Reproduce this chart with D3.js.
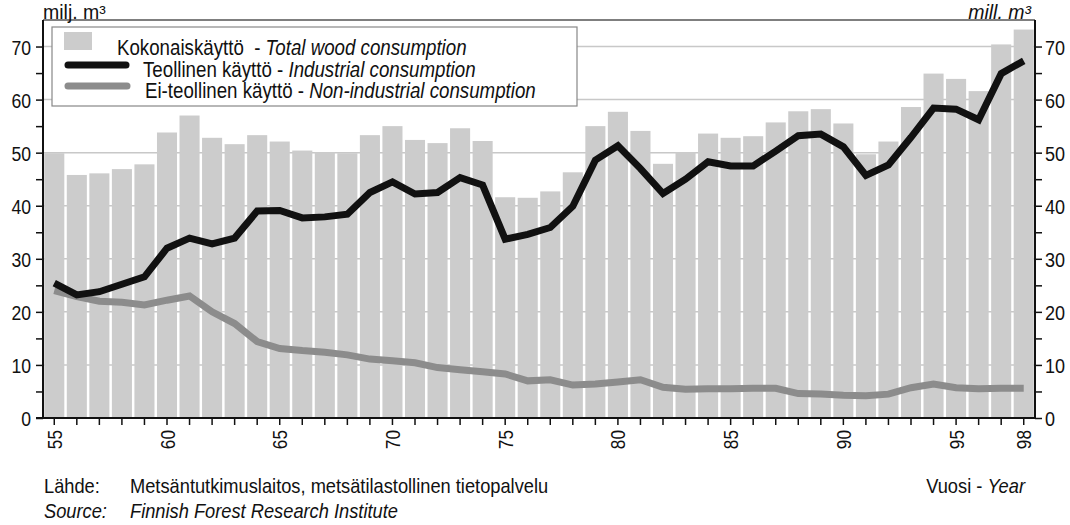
<!DOCTYPE html>
<html><head><meta charset="utf-8">
<script src="https://cdn.jsdelivr.net/npm/d3@7"></script>
<style>
body{margin:0;background:#fff;}
text{font-family:'Liberation Sans',Arial,sans-serif;fill:#111;white-space:pre;}
</style></head>
<body><svg id="c" width="1070" height="525"></svg>
<script>
const years = [55,56,57,58,59,60,61,62,63,64,65,66,67,68,69,70,71,72,73,74,75,76,77,78,79,80,81,82,83,84,85,86,87,88,89,90,91,92,93,94,95,96,97,98];
const total = [49.9,45.8,46.1,46.9,47.8,53.8,57.0,52.8,51.6,53.3, 52.1,50.4,50.1,49.9,53.3,55.0,52.4,51.8,54.6,52.2, 41.6,41.5,42.7,46.3,55.0,57.7,54.1,47.9,50.1,53.6, 52.8,53.1,55.7,57.8,58.2,55.5,49.7,52.1,58.6,64.9, 63.9,61.6,70.4,73.2];
const industrial = [25.4,23.2,23.8,25.2,26.6,32.0,33.9,32.8,33.9,39.0, 39.1,37.7,37.9,38.4,42.5,44.5,42.2,42.5,45.3,43.9, 33.7,34.6,35.9,39.9,48.6,51.3,47.0,42.3,45.0,48.3, 47.5,47.5,50.3,53.2,53.5,51.1,45.7,47.7,52.9,58.4, 58.2,56.2,64.9,67.3];
const nonIndustrial = [24.0,22.9,22.0,21.8,21.3,22.2,23.0,20.0,17.8,14.4, 13.1,12.7,12.4,11.9,11.1,10.8,10.4,9.5,9.1,8.7, 8.3,7.0,7.2,6.2,6.4,6.8,7.2,5.8,5.4,5.5, 5.5,5.6,5.6,4.6,4.5,4.3,4.2,4.5,5.7,6.4, 5.7,5.5,5.6,5.6];
const yTicks = [0,5,10,15,20,25,30,35,40,45,50,55,60,65,70];
const yLabels = [0,10,20,30,40,50,60,70];
const xLabels = [55,60,65,70,75,80,85,90,95,98];

const L=43, R=1035, T=20, B=418;
const svg = d3.select('#c');
const x = d3.scaleBand().domain(years).range([L,R]).paddingInner(0.11).paddingOuter(0.055);
const y = d3.scaleLinear().domain([0,75]).range([B,T]);
const cx = d => x(d)+x.bandwidth()/2;

function txt(g, px, py, size, sx, anchor, parts){
  const t = g.append('text').attr('transform',`translate(${px},${py}) scale(${sx},1)`)
    .attr('font-size',size).attr('text-anchor',anchor||'start');
  parts.forEach(p=>t.append('tspan').attr('font-style',p.i?'italic':null).text(p.t));
  return t;
}

// gridlines
svg.append('g').selectAll('line').data(yLabels.filter(v=>v>0)).join('line')
  .attr('x1',L).attr('x2',R).attr('y1',d=>y(d)).attr('y2',d=>y(d))
  .attr('stroke','#c8c8c8').attr('stroke-width',1.5);

// bars
svg.append('g').selectAll('rect').data(years).join('rect')
  .attr('x',d=>x(d)).attr('width',x.bandwidth())
  .attr('y',(d,i)=>y(total[i])).attr('height',(d,i)=>B-y(total[i]))
  .attr('fill','#cccccc');

// lines
const line = d3.line().x((d,i)=>cx(years[i])).y(d=>y(d));
svg.append('path').datum(nonIndustrial).attr('d',line).attr('fill','none')
  .attr('stroke','#8c8c8c').attr('stroke-width',7).attr('stroke-linejoin','miter');
svg.append('path').datum(industrial).attr('d',line).attr('fill','none')
  .attr('stroke','#111').attr('stroke-width',7).attr('stroke-linejoin','miter');

// top frame
svg.append('line').attr('x1',L).attr('x2',R).attr('y1',T).attr('y2',T).attr('stroke','#555').attr('stroke-width',1.5);

// axes
function fmt(d){return d%10===0?String(d):'';}
const gl = svg.append('g').attr('transform',`translate(${L},0)`).call(d3.axisLeft(y).tickValues(yTicks).tickSize(7).tickFormat(fmt));
const gr = svg.append('g').attr('transform',`translate(${R},0)`).call(d3.axisRight(y).tickValues(yTicks).tickSize(7).tickFormat(fmt));
const gb = svg.append('g').attr('transform',`translate(0,${B})`).call(d3.axisBottom(x).tickSize(7).tickSizeOuter(0).tickFormat(d=>xLabels.includes(d)?String(d):''));
[gl,gr,gb].forEach(g=>{
  g.select('.domain').attr('stroke','#111').attr('stroke-width',2);
  g.selectAll('.tick line').attr('stroke','#111').attr('stroke-width',1.5);
  g.selectAll('text').attr('font-family',null).attr('font-size',21).attr('fill','#111');
});
gl.select('.domain').attr('d',`M0,${T}V${B}`);
gr.select('.domain').attr('d',`M0,${T}V${B}`);
gb.select('.domain').attr('d',`M${L-7},0H${R}`);
gl.selectAll('text').attr('x',0).attr('dy','0.36em').attr('transform','translate(-12,0) scale(0.84,1)');
gr.selectAll('text').attr('x',0).attr('dy','0.36em').attr('text-anchor','start').attr('transform','translate(10,0) scale(0.86,1)');
gb.selectAll('text').attr('x',0).attr('y',0).attr('dy','0.36em').attr('text-anchor','end')
  .attr('transform','rotate(-90) translate(-12,0) scale(0.82,1)');

// units
txt(svg, L, T-1, 19.5, 1, 'start', [{t:'milj. m³'}]);
txt(svg, 1031, T-1, 19.5, 1, 'end', [{t:'mill. m³', i:true}]);

// legend
const lg = svg.append('g');
lg.append('rect').attr('x',52).attr('y',27).attr('width',525).attr('height',79).attr('fill','#fff').attr('stroke','#888').attr('stroke-width',1.2);
lg.append('rect').attr('x',64).attr('y',32).attr('width',28).attr('height',18).attr('fill','#cccccc');
lg.append('line').attr('x1',68).attr('x2',126).attr('y1',65).attr('y2',65).attr('stroke','#111').attr('stroke-width',7).attr('stroke-linecap','round');
lg.append('line').attr('x1',68).attr('x2',127).attr('y1',86).attr('y2',86).attr('stroke','#8c8c8c').attr('stroke-width',7).attr('stroke-linecap','round');
txt(lg, 117, 55, 21.5, 0.87, 'start', [{t:'Kokonaiskäyttö  - '},{t:'Total wood consumption', i:true}]);
txt(lg, 143, 77, 21.5, 0.87, 'start', [{t:'Teollinen käyttö - '},{t:'Industrial consumption', i:true}]);
txt(lg, 145, 98, 21.5, 0.87, 'start', [{t:'Ei-teollinen käyttö - '},{t:'Non-industrial consumption', i:true}]);

// footer
txt(svg, 44, 493, 21, 0.87, 'start', [{t:'Lähde:'}]);
txt(svg, 130, 493, 21, 0.87, 'start', [{t:'Metsäntutkimuslaitos, metsätilastollinen tietopalvelu'}]);
txt(svg, 44, 518, 21, 0.87, 'start', [{t:'Source:', i:true}]);
txt(svg, 130, 518, 21, 0.87, 'start', [{t:'Finnish Forest Research Institute', i:true}]);
txt(svg, 1025, 493, 21, 0.87, 'end', [{t:'Vuosi - '},{t:'Year', i:true}]);
</script></body></html>
